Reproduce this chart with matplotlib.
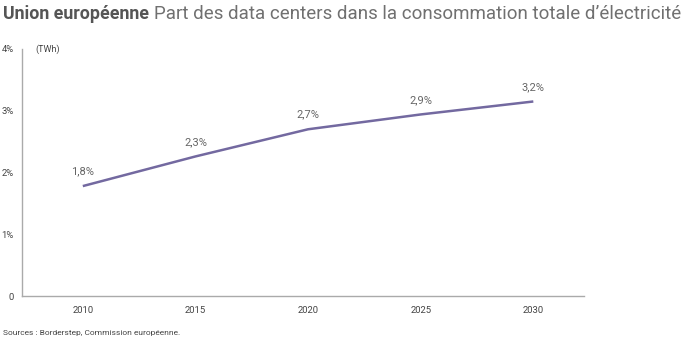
import matplotlib
matplotlib.use("Agg")
import matplotlib.pyplot as plt

years = ["2010", "2015", "2020", "2025", "2030"]
share = [1.78, 2.26, 2.70, 2.94, 3.15]
labels = ["1,8%", "2,3%", "2,7%", "2,9%", "3,2%"]
yticks = [0, 1, 2, 3, 4]
ytick_labels = ["0", "1%", "2%", "3%", "4%"]

plt.rcParams['font.family'] = ['Roboto', 'DejaVu Sans']
W, H = 700, 338
fig = plt.figure(figsize=(W/100, H/100), dpi=100)
ax = fig.add_axes([22/W, 42/H, (584-22)/W, (296-49)/H])

x = list(range(len(years)))
ax.plot(x, share, color="#7369a0", lw=1.8, solid_capstyle="butt")
for xi, yi, lab in zip(x, share, labels):
    ax.annotate(lab, (xi, yi), xytext=(0, 7), textcoords="offset points",
                ha="center", va="bottom", fontsize=8, color="#666666")

ax.set_xlim(-0.54, 4.45)
ax.set_ylim(0, 4)
ax.set_xticks(x)
ax.set_xticklabels(years)
ax.set_yticks(yticks)
ax.set_yticklabels(ytick_labels)
ax.tick_params(axis="both", length=0, labelsize=6.8, colors="#444444")
ax.tick_params(axis="x", pad=7)
ax.tick_params(axis="y", pad=6)
for t in ax.get_yticklabels():
    t.set_horizontalalignment("right")
for s in ["top", "right"]:
    ax.spines[s].set_visible(False)
for s in ["left", "bottom"]:
    ax.spines[s].set_color("#aaaaaa")
    ax.spines[s].set_linewidth(1)

fig.text(35/W, 1 - 49/H, "(TWh)", fontsize=6.5, color="#444444", va="center")
t1 = fig.text(3/W, 1 - 14/H, "Union européenne", fontsize=12.8, fontweight="bold",
              color="#555555", va="center")
fig.canvas.draw()
bb = t1.get_window_extent()
fig.text((bb.x1 + 5)/W, 1 - 14/H, "Part des data centers dans la consommation totale d’électricité",
         fontsize=13.5, color="#707070", va="center")
fig.text(3/W, 1 - 333/H, "Sources : Borderstep, Commission européenne.", fontsize=6,
         color="#444444", va="center")

fig.savefig("out.png", dpi=100)
